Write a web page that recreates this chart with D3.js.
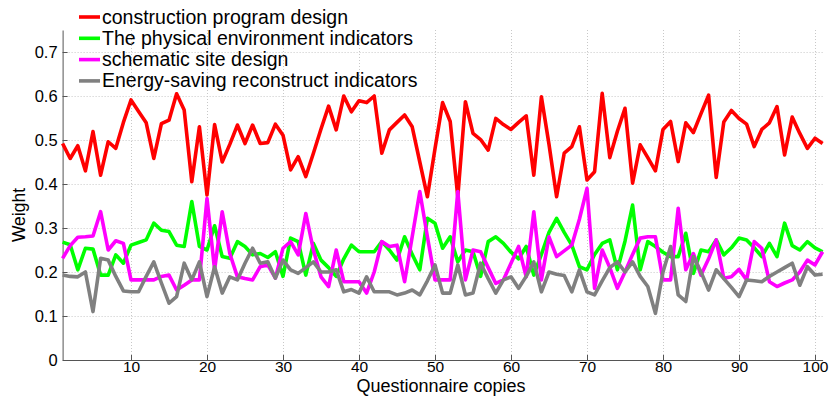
<!DOCTYPE html>
<html><head><meta charset="utf-8">
<script src="https://cdn.jsdelivr.net/npm/d3@7/dist/d3.min.js"></script>
<style>
body{margin:0;background:#fff;}
text{font-family:"Liberation Sans",Arial,Helvetica,sans-serif;fill:#000;}
</style></head>
<body><svg id="chart" width="831" height="396"></svg>
<script>
const seriesNames = ["construction program design","The physical environment indicators","schematic site design","Energy-saving reconstruct indicators"];
const seriesColors = ["#ff0000","#00ff00","#ff00ff","#808080"];
const xTicks = [10,20,30,40,50,60,70,80,90,100];
const yTicks = [0,0.1,0.2,0.3,0.4,0.5,0.6,0.7];
const yTickLabels = ["0","0.1","0.2","0.3","0.4","0.5","0.6","0.7"];
const xLabel = "Questionnaire copies";
const yLabel = "Weight";

const construction = [0.492,0.458,0.487,0.430,0.519,0.420,0.496,0.481,0.540,0.591,
 0.565,0.539,0.458,0.537,0.545,0.605,0.568,0.405,0.530,0.375,
 0.535,0.450,0.490,0.534,0.492,0.534,0.492,0.494,0.536,0.511,
 0.432,0.462,0.417,0.470,0.525,0.577,0.523,0.600,0.564,0.589,
 0.585,0.600,0.470,0.523,0.540,0.557,0.530,0.450,0.371,0.480,
 0.585,0.542,0.371,0.587,0.515,0.501,0.477,0.549,0.535,0.524,
 0.540,0.555,0.420,0.598,0.490,0.371,0.470,0.485,0.530,0.409,
 0.428,0.606,0.460,0.520,0.572,0.402,0.489,0.460,0.430,0.524,
 0.542,0.451,0.539,0.517,0.560,0.602,0.415,0.541,0.567,0.549,
 0.536,0.485,0.524,0.539,0.576,0.466,0.552,0.515,0.481,0.504,
 0.492];
const physical = [0.268,0.262,0.205,0.254,0.252,0.193,0.193,0.239,0.220,0.261,
 0.267,0.273,0.311,0.295,0.292,0.261,0.258,0.360,0.258,0.250,
 0.305,0.235,0.231,0.269,0.258,0.239,0.242,0.233,0.246,0.190,
 0.277,0.269,0.193,0.265,0.227,0.210,0.190,0.230,0.261,0.246,
 0.246,0.246,0.269,0.250,0.227,0.280,0.240,0.205,0.322,0.311,
 0.254,0.280,0.223,0.250,0.246,0.190,0.269,0.280,0.265,0.245,
 0.230,0.258,0.193,0.240,0.290,0.322,0.290,0.261,0.212,0.205,
 0.240,0.265,0.273,0.205,0.270,0.352,0.205,0.269,0.258,0.245,
 0.235,0.235,0.288,0.197,0.250,0.246,0.273,0.239,0.255,0.277,
 0.273,0.255,0.235,0.265,0.235,0.311,0.260,0.250,0.269,0.255,
 0.246];
const schematic = [0.231,0.260,0.279,0.280,0.282,0.337,0.250,0.271,0.265,0.182,
 0.182,0.182,0.182,0.190,0.193,0.159,0.170,0.182,0.182,0.367,
 0.205,0.337,0.242,0.189,0.185,0.182,0.212,0.216,0.186,0.254,
 0.269,0.239,0.333,0.250,0.189,0.167,0.250,0.178,0.178,0.178,
 0.152,0.200,0.269,0.258,0.261,0.178,0.280,0.383,0.280,0.182,
 0.182,0.182,0.383,0.182,0.250,0.246,0.210,0.174,0.182,0.220,
 0.258,0.189,0.337,0.182,0.280,0.235,0.248,0.261,0.320,0.390,
 0.163,0.250,0.210,0.163,0.200,0.240,0.277,0.280,0.280,0.182,
 0.182,0.345,0.205,0.242,0.193,0.230,0.273,0.186,0.189,0.206,
 0.182,0.269,0.254,0.178,0.167,0.175,0.182,0.200,0.227,0.216,
 0.246];
const energy = [0.193,0.190,0.189,0.200,0.110,0.231,0.227,0.190,0.157,0.155,
 0.155,0.190,0.223,0.175,0.129,0.144,0.220,0.182,0.223,0.144,
 0.212,0.152,0.189,0.182,0.220,0.254,0.220,0.223,0.186,0.227,
 0.205,0.197,0.210,0.223,0.200,0.200,0.205,0.155,0.160,0.152,
 0.189,0.155,0.155,0.155,0.148,0.152,0.159,0.148,0.180,0.216,
 0.152,0.152,0.216,0.148,0.152,0.220,0.185,0.152,0.182,0.189,
 0.163,0.190,0.223,0.155,0.200,0.195,0.192,0.155,0.205,0.155,
 0.148,0.180,0.210,0.223,0.200,0.223,0.190,0.167,0.106,0.200,
 0.258,0.148,0.133,0.235,0.200,0.159,0.205,0.185,0.165,0.144,
 0.182,0.180,0.178,0.190,0.200,0.210,0.220,0.170,0.212,0.193,
 0.195];
const allSeries = [construction, physical, schematic, energy];

(function(){
const svg = d3.select("#chart");
const mL = 62.6, mR = 822.6, mT = 30, mB = 360;
const x = d3.scaleLinear().domain([1,101]).range([mL,mR]);
const y = d3.scaleLinear().domain([0,0.75]).range([mB,mT]);

const grid = svg.append("g").attr("stroke","#c8c8c8").attr("stroke-width",1).attr("stroke-dasharray","1,2");
grid.selectAll("line.gy").data(yTicks.filter(d=>d>0)).join("line").attr("class","gy")
  .attr("x1",mL).attr("x2",mR).attr("y1",d=>Math.round(y(d))+0.5).attr("y2",d=>Math.round(y(d))+0.5);
grid.selectAll("line.gx").data(xTicks).join("line").attr("class","gx")
  .attr("y1",mT).attr("y2",mB).attr("x1",d=>Math.round(x(d))+0.5).attr("x2",d=>Math.round(x(d))+0.5);

const xAxis = d3.axisBottom(x).tickValues(xTicks).tickSizeInner(-5).tickSizeOuter(0).tickPadding(1);
const yAxis = d3.axisLeft(y).tickValues(yTicks).tickFormat((d,i)=>yTickLabels[i]).tickSizeInner(-5).tickSizeOuter(0).tickPadding(5);
const gx = svg.append("g").attr("transform",`translate(0,${mB})`).call(xAxis);
const gy = svg.append("g").attr("transform",`translate(${mL},0)`).call(yAxis);
[gx,gy].forEach(g=>{
  g.select(".domain").attr("stroke","#555");
  g.selectAll(".tick line").attr("stroke","#555");
  g.selectAll("text").style("font-family","'Liberation Sans',Arial,sans-serif").attr("fill","#000");
});
gx.selectAll("text").style("font-size","15.5px");
gy.selectAll("text").style("font-size","16.5px");

const line = d3.line().x((d,i)=>x(i+1)).y(d=>y(d));
svg.append("g").selectAll("path").data(allSeries).join("path")
  .attr("d",line).attr("fill","none")
  .attr("stroke",(d,i)=>seriesColors[i]).attr("stroke-width",3.6)
  .attr("stroke-linejoin","round").attr("stroke-linecap","butt");

svg.append("text").attr("x",441).attr("y",392).attr("text-anchor","middle")
  .style("font-size","18px").text(xLabel);
svg.append("text").attr("transform",`translate(25,${(mT+mB)/2+20}) rotate(-90)`).attr("text-anchor","middle")
  .style("font-size","17.5px").text(yLabel);

const lg = svg.append("g");
seriesNames.forEach((name,i)=>{
  const yy = 17 + i*21.3;
  lg.append("line").attr("x1",79).attr("x2",100).attr("y1",yy).attr("y2",yy)
    .attr("stroke",seriesColors[i]).attr("stroke-width",3.6);
  lg.append("text").attr("x",102).attr("y",yy+6.5).style("font-size","19.5px").text(name);
});
})();
</script></body></html>
